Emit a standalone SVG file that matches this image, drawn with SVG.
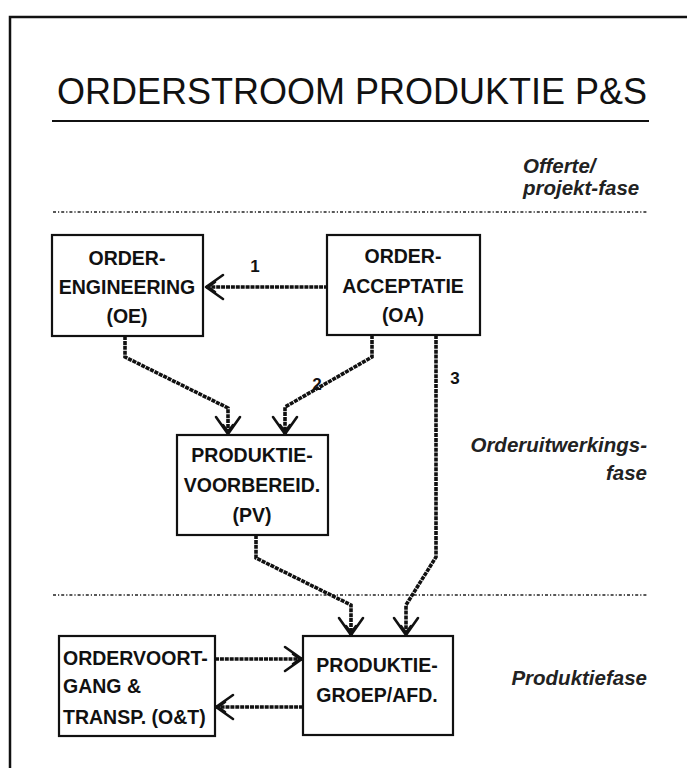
<svg xmlns="http://www.w3.org/2000/svg" width="687" height="768" viewBox="0 0 687 768">
  <style>
    .frame { stroke: #111; stroke-width: 2.5; fill: none; }
    .box { fill: #fff; stroke: #111; stroke-width: 2.2; }
    .lbl { font-family: "Liberation Sans", Arial, sans-serif; font-weight: bold; font-size: 19.5px; fill: #111; text-anchor: middle; }
    .lbl-left { text-anchor: start; }
    .phase { font-family: "Liberation Sans", Arial, sans-serif; font-weight: bold; font-style: italic; font-size: 20.5px; fill: #222; }
    .num { font-family: "Liberation Sans", Arial, sans-serif; font-weight: bold; font-size: 17px; fill: #111; text-anchor: middle; }
    .sep { stroke: #222; stroke-width: 1.6; stroke-dasharray: 3 2 1.2 2; fill: none; }
    .flow { stroke: #111; stroke-width: 3.6; stroke-dasharray: 4 0.9; fill: none; marker-end: url(#head); }
  </style>
  <defs>
    <marker id="head" markerUnits="userSpaceOnUse" viewBox="-20 -14 22 28" refX="0" refY="0" markerWidth="22" markerHeight="28" orient="auto" overflow="visible">
      <path d="M-17,-12 L0,0 L-17,12 M-9,-5 L-2,0 L-9,5" fill="none" stroke="#111" stroke-width="2.6" stroke-linecap="round" stroke-linejoin="round"/>
    </marker>
  </defs>

  <rect width="687" height="768" fill="#fff"/>

  <!-- page frame -->
  <path class="frame" d="M10,768 L10,17 L687,17"/>

  <!-- heading -->
  <g id="title">
    <text x="352" y="104" font-family="Liberation Sans, Arial, sans-serif" font-size="36" fill="#111" text-anchor="middle">ORDERSTROOM PRODUKTIE P&amp;S</text>
    <line x1="52" y1="121" x2="649" y2="121" stroke="#111" stroke-width="2.2"/>
  </g>

  <!-- phase separators and names -->
  <g id="phases">
    <line class="sep" x1="53" y1="212" x2="648" y2="212"/>
    <line class="sep" x1="53" y1="595" x2="648" y2="595"/>
    <text class="phase" x="523" y="173">Offerte/</text>
    <text class="phase" x="523" y="195">projekt-fase</text>
    <text class="phase" x="647" y="452" text-anchor="end">Orderuitwerkings-</text>
    <text class="phase" x="647" y="480" text-anchor="end">fase</text>
    <text class="phase" x="647" y="685" text-anchor="end">Produktiefase</text>
  </g>

  <!-- connectors -->
  <g id="connectors">
    <path class="flow" d="M328,287 L206,287"/>
    <path class="flow" d="M125,336 L125,357 L228,408 L228,434"/>
    <path class="flow" d="M372,335 L372,357 L285,407 L285,434"/>
    <path class="flow" d="M436,335 L436,557 L406,605 L406,635"/>
    <path class="flow" d="M256,535 L256,558 L351,605 L351,635"/>
    <path class="flow" d="M215,659 L302,659"/>
    <path class="flow" d="M303,707 L216,707"/>
    <text class="num" x="255" y="272">1</text>
    <text class="num" x="317" y="390">2</text>
    <text class="num" x="455" y="384">3</text>
  </g>

  <!-- nodes -->
  <g id="OE">
    <rect class="box" x="52" y="235" width="151" height="101"/>
    <text class="lbl" x="127" y="265">ORDER-</text>
    <text class="lbl" x="127" y="294">ENGINEERING</text>
    <text class="lbl" x="127" y="323">(OE)</text>
  </g>
  <g id="OA">
    <rect class="box" x="327" y="235" width="153" height="100"/>
    <text class="lbl" x="403" y="263">ORDER-</text>
    <text class="lbl" x="403" y="293">ACCEPTATIE</text>
    <text class="lbl" x="403" y="322">(OA)</text>
  </g>
  <g id="PV">
    <rect class="box" x="177" y="435" width="151" height="100"/>
    <text class="lbl" x="252" y="462">PRODUKTIE-</text>
    <text class="lbl" x="252" y="492">VOORBEREID.</text>
    <text class="lbl" x="252" y="522">(PV)</text>
  </g>
  <g id="OT">
    <rect class="box" x="59" y="636" width="156" height="100"/>
    <text class="lbl lbl-left" x="63" y="665">ORDERVOORT-</text>
    <text class="lbl lbl-left" x="63" y="693">GANG &amp;</text>
    <text class="lbl lbl-left" x="63" y="724">TRANSP. (O&amp;T)</text>
  </g>
  <g id="PG">
    <rect class="box" x="303" y="636" width="150" height="99"/>
    <text class="lbl" x="377" y="672">PRODUKTIE-</text>
    <text class="lbl" x="377" y="702">GROEP/AFD.</text>
  </g>
</svg>
